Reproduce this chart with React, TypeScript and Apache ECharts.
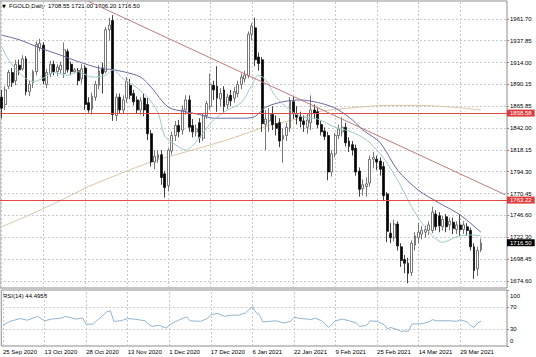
import React, { useEffect, useRef } from "react";
import * as echarts from "echarts";

// ---------- data ----------
const dateLabels = [
  "25 Sep 2020", "13 Oct 2020", "28 Oct 2020", "13 Nov 2020", "1 Dec 2020", "17 Dec 2020",
  "6 Jan 2021", "22 Jan 2021", "9 Feb 2021", "25 Feb 2021", "14 Mar 2021", "29 Mar 2021",
];
const LABEL_STEP = 12;
const SLOT_COUNT = 146;

// [open, close, low, high]
const candles: number[][] = [
  [1876, 1864, 1853, 1884], [1868, 1884, 1862, 1888], [1888, 1903, 1885, 1906], [1903, 1892, 1887, 1908],
  [1894, 1912, 1889, 1917], [1911, 1906, 1900, 1917], [1907, 1918, 1905, 1922], [1918, 1882, 1878, 1921],
  [1882, 1890, 1877, 1894], [1892, 1904, 1886, 1906], [1904, 1934, 1900, 1937], [1930, 1935, 1926, 1940],
  [1933, 1894, 1890, 1936], [1890, 1903, 1886, 1907], [1902, 1912, 1898, 1916], [1912, 1904, 1900, 1916],
  [1904, 1909, 1899, 1912], [1906, 1911, 1902, 1915], [1902, 1928, 1897, 1936], [1926, 1906, 1903, 1929],
  [1912, 1904, 1900, 1915], [1904, 1906, 1902, 1908], [1905, 1894, 1889, 1908], [1896, 1907, 1891, 1912],
  [1908, 1868, 1862, 1911], [1870, 1862, 1859, 1876], [1863, 1877, 1857, 1881], [1876, 1890, 1872, 1894],
  [1889, 1905, 1885, 1911], [1908, 1902, 1880, 1914], [1904, 1950, 1902, 1953], [1950, 1955, 1938, 1963],
  [1960, 1857, 1850, 1966], [1856, 1876, 1850, 1880], [1876, 1862, 1858, 1880], [1862, 1873, 1858, 1878],
  [1875, 1893, 1870, 1898], [1889, 1878, 1874, 1896], [1880, 1871, 1867, 1884], [1873, 1862, 1858, 1877],
  [1862, 1872, 1857, 1876], [1875, 1862, 1855, 1880], [1868, 1836, 1829, 1875], [1836, 1805, 1800, 1840],
  [1805, 1811, 1797, 1818], [1809, 1813, 1804, 1818], [1813, 1788, 1780, 1818], [1792, 1777, 1766, 1795],
  [1779, 1818, 1773, 1820], [1817, 1834, 1813, 1838], [1834, 1845, 1828, 1850], [1845, 1838, 1832, 1851],
  [1840, 1862, 1835, 1867], [1862, 1873, 1857, 1878], [1873, 1843, 1838, 1878], [1845, 1838, 1832, 1852],
  [1838, 1841, 1833, 1846], [1848, 1832, 1826, 1853], [1831, 1856, 1828, 1858], [1856, 1869, 1852, 1872],
  [1866, 1890, 1862, 1902], [1889, 1884, 1873, 1894], [1888, 1875, 1860, 1910], [1874, 1880, 1866, 1886],
  [1884, 1866, 1860, 1888], [1868, 1876, 1863, 1880], [1878, 1872, 1866, 1884], [1875, 1882, 1870, 1887],
  [1880, 1890, 1876, 1894], [1890, 1898, 1885, 1902], [1896, 1900, 1892, 1905], [1900, 1945, 1897, 1948],
  [1945, 1954, 1938, 1957], [1952, 1917, 1910, 1963], [1920, 1913, 1905, 1925], [1917, 1847, 1838, 1920],
  [1846, 1852, 1818, 1862], [1850, 1858, 1838, 1864], [1857, 1846, 1840, 1866], [1847, 1842, 1834, 1856],
  [1848, 1828, 1821, 1853], [1830, 1834, 1804, 1842], [1834, 1843, 1828, 1848], [1842, 1872, 1838, 1876],
  [1871, 1858, 1852, 1876], [1858, 1854, 1846, 1866], [1855, 1850, 1843, 1860], [1850, 1846, 1838, 1856],
  [1843, 1851, 1836, 1858], [1848, 1862, 1840, 1878], [1862, 1858, 1852, 1868], [1860, 1846, 1842, 1864],
  [1846, 1838, 1834, 1850], [1839, 1833, 1829, 1843], [1834, 1794, 1785, 1838], [1794, 1814, 1789, 1818],
  [1814, 1834, 1810, 1837], [1834, 1841, 1830, 1846], [1838, 1843, 1833, 1854], [1843, 1826, 1822, 1848],
  [1828, 1822, 1816, 1832], [1824, 1818, 1812, 1828], [1820, 1794, 1790, 1824], [1795, 1775, 1767, 1799],
  [1776, 1780, 1768, 1786], [1778, 1781, 1767, 1788], [1782, 1808, 1778, 1812], [1808, 1810, 1798, 1816],
  [1808, 1805, 1796, 1812], [1806, 1797, 1790, 1810], [1800, 1768, 1762, 1805], [1770, 1729, 1717, 1772],
  [1727, 1722, 1716, 1738], [1722, 1737, 1718, 1742], [1737, 1713, 1708, 1740], [1712, 1697, 1690, 1716],
  [1698, 1694, 1683, 1703], [1694, 1683, 1672, 1700], [1684, 1716, 1680, 1719], [1714, 1724, 1708, 1728],
  [1722, 1728, 1716, 1738], [1726, 1730, 1720, 1735], [1728, 1731, 1722, 1735], [1730, 1736, 1725, 1740],
  [1730, 1750, 1727, 1756], [1748, 1734, 1730, 1752], [1746, 1735, 1728, 1750], [1734, 1742, 1730, 1746],
  [1745, 1734, 1728, 1748], [1736, 1740, 1730, 1744], [1739, 1732, 1726, 1744], [1731, 1736, 1726, 1740],
  [1736, 1731, 1724, 1748], [1731, 1736, 1726, 1740], [1734, 1730, 1724, 1738], [1730, 1712, 1708, 1733],
  [1712, 1686, 1677, 1716], [1688, 1708, 1680, 1712], [1708.55, 1716.5, 1706.2, 1721.0],
];

// moving averages: [bar index, price]
const maFast: number[][] = [
  [0, 1931], [2, 1917], [5, 1903], [9, 1893], [12, 1897], [15, 1903], [19, 1900], [22, 1904], [26, 1898],
  [30, 1900], [32, 1906], [35, 1896], [38, 1889], [42, 1876], [45, 1859], [47, 1833], [50, 1824], [53, 1818],
  [55, 1823], [58, 1837], [61, 1851], [65, 1862], [69, 1870], [72, 1889], [74, 1900], [76, 1895], [79, 1876],
  [83, 1862], [86, 1855], [91, 1852], [96, 1843], [99, 1840], [103, 1834], [106, 1826], [110, 1809],
  [114, 1785], [118, 1756], [121, 1738], [124, 1724], [127, 1717], [131, 1723], [135, 1725], [138, 1724],
];
const maMid: number[][] = [
  [0, 1944], [5, 1939], [11, 1930], [17, 1922], [22, 1915], [28, 1908], [32, 1906], [35, 1904], [40, 1898],
  [43, 1887], [48, 1865], [53, 1860], [57, 1857], [61, 1853], [65, 1853], [70, 1853], [73, 1855], [76, 1865],
  [81, 1871], [86, 1873], [90, 1871], [94, 1867], [97, 1862], [101, 1851], [104, 1840], [109, 1826],
  [114, 1796], [120, 1774], [126, 1760], [132, 1747], [138, 1728],
];
const maSlow: number[][] = [
  [0, 1734], [8, 1747], [17, 1763], [25, 1778], [34, 1792], [43, 1805], [53, 1816], [63, 1827], [71, 1837],
  [77, 1845], [86, 1853], [91, 1860], [100, 1864], [111, 1867], [120, 1867], [130, 1865], [138, 1862],
];

const rsiValues: number[][] = [
  [0, 37], [2, 44], [5, 49], [7, 46], [10, 53], [12, 45], [14, 48], [17, 50], [18, 53], [21, 48], [23, 50],
  [24, 39], [26, 39], [27, 45], [28, 50], [30, 61], [31, 63], [32, 44], [34, 45], [36, 49], [38, 48],
  [40, 46], [41, 45], [42, 39], [43, 35], [45, 37], [47, 32], [49, 41], [51, 47], [53, 52], [54, 45],
  [57, 44], [59, 49], [60, 56], [62, 58], [64, 53], [66, 55], [68, 55], [70, 59], [71, 65], [72, 70],
  [73, 60], [74, 56], [75, 43], [77, 44], [79, 45], [81, 41], [83, 44], [84, 51], [86, 49], [88, 48],
  [89, 47], [90, 50], [92, 45], [93, 39], [94, 33], [96, 45], [98, 48], [100, 45], [102, 41], [103, 35],
  [105, 37], [106, 45], [108, 44], [110, 38], [111, 31], [112, 33], [114, 29], [115, 26], [116, 27],
  [117, 26], [118, 39], [121, 40], [123, 43], [124, 47], [125, 45], [127, 45], [129, 45], [131, 44],
  [132, 47], [134, 43], [135, 37], [136, 33], [137, 41], [138, 44.4958],
];
const rsiLast = 44.4958;

const priceTicks = [1961.7, 1937.85, 1914.0, 1890.15, 1865.85, 1842.0, 1818.15, 1794.3, 1770.45, 1746.6, 1722.3, 1698.45, 1674.6];
const rsiMidTicks = [70, 30];
const rsiTopTick = [100];
const rsiBottomTick = [0];
const rsiLevels = [70, 30];
const levelLines = [1858.58, 1763.22];
const trendline: number[][] = [[25, 1981], [145, 1769]];

// ---------- option ----------
const FONT = "'Liberation Sans', Arial, sans-serif";
const slots = Array.from({ length: SLOT_COUNT }, (_, i) => String(i));
const labelSlots = dateLabels.map((_, k) => k * LABEL_STEP);
const gridLine = { color: "#c8c8c8", type: [2, 2] as number[], width: 1 };
const last = candles[candles.length - 1];
const header = `FGOLD,Daily  ${last[0].toFixed(2)} ${last[3].toFixed(2)} ${last[2].toFixed(2)} ${last[1].toFixed(2)}`;
const LEVEL_COLOR = "#e04a44";

function buildOption(): any {
  const axisText = { fontSize: 6, color: "#000", fontFamily: FONT };
  const boxLabel = (text: string, bg: string) => ({
    show: true, position: "end", distance: 0, formatter: () => text,
    backgroundColor: bg, color: "#fff", fontSize: 6, fontFamily: FONT, padding: [1, 3, 0, 3],
  });
  const rsiAxis = (values: number[], verticalAlign: string, pad: number[]) => ({
    type: "value", gridIndex: 1, position: "right", min: 0, max: 100,
    axisLine: { show: false }, splitLine: { show: false },
    axisTick: { show: true, customValues: values, length: 2, lineStyle: { color: "#8c8c8c" } },
    axisLabel: { ...axisText, customValues: values, margin: 3, verticalAlign, padding: pad },
  });
  return {
    animation: false,
    backgroundColor: "#ffffff",
    textStyle: { fontFamily: FONT },
    grid: [
      { left: 0, top: 1, width: 507, height: 287, show: true, borderColor: "#8c8c8c", borderWidth: 1 },
      { left: 0, top: 290, width: 507, height: 56, show: true, borderColor: "#8c8c8c", borderWidth: 1 },
    ],
    xAxis: [
      {
        type: "category", gridIndex: 0, data: slots, boundaryGap: true,
        axisLine: { show: false }, axisTick: { show: false }, axisLabel: { show: false }, splitLine: { show: false },
      },
      {
        type: "category", gridIndex: 1, data: slots, boundaryGap: true,
        axisLine: { show: false }, axisTick: { show: false }, splitLine: { show: false },
        axisLabel: {
          show: true, ...axisText, align: "left", margin: 3,
          interval: (i: number) => i % LABEL_STEP === 0 && i / LABEL_STEP < dateLabels.length,
          formatter: (_v: string, i: number) => dateLabels[i / LABEL_STEP] ?? "",
        },
      },
    ],
    yAxis: [
      {
        type: "value", gridIndex: 0, position: "right", min: 1666.9, max: 1981.4,
        axisLine: { show: false }, splitLine: { show: false },
        axisTick: { show: true, customValues: priceTicks, length: 2, lineStyle: { color: "#8c8c8c" } },
        axisLabel: { ...axisText, customValues: priceTicks, margin: 3, formatter: (v: number) => v.toFixed(2) },
      },
      rsiAxis(rsiMidTicks, "middle", [0, 0, 0, 0]),
      rsiAxis(rsiTopTick, "top", [3, 0, 0, 0]),
      rsiAxis(rsiBottomTick, "bottom", [0, 0, 2, 0]),
    ],
    graphic: [
      { type: "text", left: 2, top: 3, style: { text: "▼", fontSize: 5, fill: "#000", fontFamily: "DejaVu Sans" } },
      { type: "text", left: 9, top: 3, style: { text: header, fontSize: 6, fill: "#000", fontFamily: FONT } },
      { type: "text", left: 3, top: 293, style: { text: `RSI(14) ${rsiLast.toFixed(4)}`, fontSize: 6, fill: "#000", fontFamily: FONT } },
    ],
    series: [
      {
        type: "line", xAxisIndex: 0, yAxisIndex: 0, data: [], silent: true, z: 0,
        markLine: {
          silent: true, symbol: "none", z: 0, animation: false, label: { show: false }, lineStyle: gridLine,
          data: [...priceTicks.map((v) => ({ yAxis: v })), ...labelSlots.map((i) => ({ xAxis: i }))],
        },
      },
      {
        type: "line", xAxisIndex: 1, yAxisIndex: 1, data: [], silent: true, z: 0,
        markLine: {
          silent: true, symbol: "none", z: 0, animation: false, label: { show: false }, lineStyle: gridLine,
          data: [...rsiLevels.map((v) => ({ yAxis: v })), ...labelSlots.map((i) => ({ xAxis: i }))],
        },
      },
      {
        type: "line", xAxisIndex: 0, yAxisIndex: 0, data: maSlow, showSymbol: false, smooth: 0.3, z: 3,
        lineStyle: { color: "#dcc4a4", width: 1 },
      },
      {
        type: "candlestick", xAxisIndex: 0, yAxisIndex: 0, data: candles, barWidth: 2.4, z: 4,
        itemStyle: { color: "#ffffff", color0: "#000000", borderColor: "#555555", borderColor0: "#111111", borderWidth: 0.8 },
      },
      {
        type: "line", xAxisIndex: 0, yAxisIndex: 0, data: maMid, showSymbol: false, smooth: 0.3, z: 5,
        lineStyle: { color: "#6868a4", width: 1 },
      },
      {
        type: "line", xAxisIndex: 0, yAxisIndex: 0, data: maFast, showSymbol: false, smooth: 0.3, z: 5,
        lineStyle: { color: "#9ccaca", width: 1 },
      },
      {
        type: "line", xAxisIndex: 0, yAxisIndex: 0, data: [], silent: true, z: 6,
        markLine: {
          silent: true, symbol: "none", animation: false, z: 6,
          data: [
            {
              yAxis: levelLines[0],
              lineStyle: { color: LEVEL_COLOR, width: 1, type: "solid", opacity: 1 },
              label: boxLabel(levelLines[0].toFixed(2), "#e33b3b"),
            },
            {
              yAxis: levelLines[1],
              lineStyle: { color: LEVEL_COLOR, width: 1, type: "solid", opacity: 1 },
              label: boxLabel(levelLines[1].toFixed(2), "#e33b3b"),
            },
            {
              yAxis: last[1],
              lineStyle: { color: "rgba(0,0,0,0)", width: 0 },
              label: boxLabel(last[1].toFixed(2), "#000000"),
            },
            [
              { coord: [String(trendline[0][0]), trendline[0][1]], lineStyle: { color: "#bf7b7b", width: 1, type: "solid" }, label: { show: false } },
              { coord: [String(trendline[1][0]), trendline[1][1]] },
            ],
          ],
        },
      },
      {
        type: "line", xAxisIndex: 1, yAxisIndex: 1, data: rsiValues, showSymbol: false, z: 3,
        lineStyle: { color: "#8fb3d0", width: 1 },
      },
    ],
  };
}

export default function App() {
  const ref = useRef<HTMLDivElement>(null);
  useEffect(() => {
    if (!ref.current) return;
    const chart = echarts.init(ref.current, null, { renderer: "svg" });
    chart.setOption(buildOption());
    return () => chart.dispose();
  }, []);
  return (
    <div
      ref={ref}
      style={{ position: "fixed", left: 0, top: 0, width: 536, height: 357, background: "#fff" }}
    />
  );
}
